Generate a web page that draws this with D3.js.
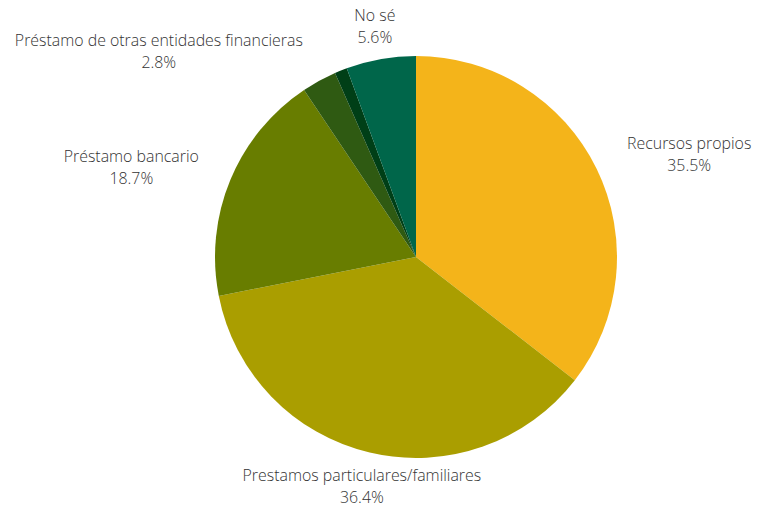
<!DOCTYPE html>
<html><head><meta charset="utf-8">
<script src="https://cdn.jsdelivr.net/npm/d3@7"></script>
<style>body{margin:0;background:#fff}svg{display:block}</style>
</head><body>
<svg id="chart" width="759" height="505"></svg>
<script>
const categories = ["Recursos propios","Prestamos particulares/familiares","Préstamo bancario","Préstamo de otras entidades financieras","Otros","No sé"];
const values = [35.5, 36.4, 18.7, 2.8, 1.0, 5.6];
const colors = ["#F4B41A","#AA9E00","#687D00","#2F5A12","#003F17","#00664A"];
const showLabel = [true,true,true,true,false,true];

const W=759,H=505,cx=416,cy=257,r=201,labelR=235;
const svg=d3.select("#chart");
const data=categories.map((c,i)=>({cat:c,val:values[i],color:colors[i],show:showLabel[i]}));
const pie=d3.pie().value(d=>d.val).sort(null);
const arc=d3.arc().innerRadius(0).outerRadius(r);
const arcs=pie(data);
const g=svg.append("g").attr("transform",`translate(${cx},${cy})`);
g.selectAll("path").data(arcs).join("path").attr("d",arc).attr("fill",d=>d.data.color);

const lg=g.append("g").attr("font-family","'Open Sans', sans-serif").attr("font-size",15.9).attr("font-weight",300).attr("fill","#333");
arcs.filter(d=>d.data.show).forEach(d=>{
  const a=(d.startAngle+d.endAngle)/2;
  const x=labelR*Math.sin(a), y=-labelR*Math.cos(a);
  const s=Math.sin(a);
  const anchor=Math.abs(s)<0.3?"middle":(s>0?"start":"end");
  const t=lg.append("text").attr("text-anchor",anchor).attr("x",x).attr("y",y);
  const lines=[d.data.cat, d.data.val.toFixed(1)+"%"];
  lines.forEach((ln,i)=>{
    t.append("tspan").attr("x",x).attr("dy",i===0?"-0.3em":"1.38em").text(ln);
  });
  const bb=t.node().getBBox();
  t.attr("y",y-(bb.y+bb.height/2-y));
  const bw=bb.width;
  const centerX = anchor==="middle"?x:(anchor==="start"?x+bw/2:x-bw/2);
  t.attr("text-anchor","middle").selectAll("tspan").attr("x",centerX);
});
</script>
</body></html>
